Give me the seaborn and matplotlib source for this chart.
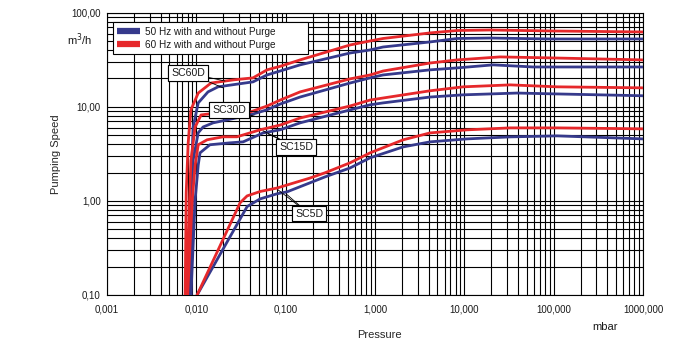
import numpy as np
import pandas as pd
import matplotlib
matplotlib.use("Agg")
import matplotlib.pyplot as plt
from matplotlib.ticker import FixedLocator, FixedFormatter, NullFormatter, LogLocator
import seaborn as sns

# ---------------- data (pressure in mbar, pumping speed in m3/h) ----------------
sc60d_50_p = [0.0085, 0.0087, 0.0092, 0.0105, 0.0135, 0.0175, 0.0431, 0.0619, 0.0866, 0.145, 0.526, 0.881, 1.23, 4.14, 8.3, 19.4, 91, 1000]
sc60d_50_s = [0.1, 1.22, 6.1, 11.0, 14.4, 16.3, 18.4, 21.8, 24.0, 27.9, 37.3, 40.2, 43.2, 48.9, 53.2, 53.8, 52.6, 52.6]
sc60d_60_p = [0.0075, 0.0077, 0.0081, 0.0087, 0.0105, 0.0146, 0.0258, 0.0431, 0.0619, 0.0866, 0.145, 0.526, 0.881, 1.23, 4.14, 8.3, 19.4, 91, 1000]
sc60d_60_s = [0.1, 1.22, 4.1, 9.3, 14.0, 17.9, 19.3, 20.3, 24.7, 26.9, 31.5, 45.4, 50.1, 53.2, 61.0, 64.7, 65.5, 64.0, 62.4]

sc30d_50_p = [0.0087, 0.0092, 0.0105, 0.0119, 0.0154, 0.0221, 0.040, 0.062, 0.087, 0.145, 0.526, 0.881, 1.23, 4.14, 8.3, 21, 59, 1000]
sc30d_50_s = [0.1, 2.7, 5.3, 6.1, 6.75, 7.26, 8.2, 9.3, 10.7, 12.7, 17.9, 20.3, 21.8, 24.7, 25.9, 27.9, 26.5, 26.5]
sc30d_60_p = [0.0077, 0.0087, 0.0097, 0.0113, 0.017, 0.028, 0.040, 0.062, 0.087, 0.145, 0.526, 0.881, 1.23, 4.14, 8.3, 25, 91, 1000]
sc30d_60_s = [0.1, 2.7, 6.1, 8.2, 8.6, 8.2, 8.8, 10.2, 11.8, 14.4, 19.8, 21.8, 24.0, 29.2, 31.5, 33.9, 33.1, 31.5]

sc15d_50_p = [0.0087, 0.0097, 0.0105, 0.011, 0.0142, 0.0238, 0.0334, 0.056, 0.087, 0.145, 0.526, 0.881, 1.23, 4.14, 9.7, 39, 109, 1000]
sc15d_50_s = [0.1, 1.03, 2.4, 3.24, 3.95, 4.14, 4.24, 5.28, 5.7, 6.75, 9.27, 10.5, 11.0, 12.7, 13.4, 14.0, 13.7, 13.1]
sc15d_60_p = [0.0080, 0.0090, 0.0097, 0.0105, 0.0132, 0.020, 0.0285, 0.052, 0.087, 0.145, 0.526, 0.881, 1.23, 4.14, 9.7, 32.6, 109, 1000]
sc15d_60_s = [0.1, 1.03, 2.4, 3.95, 4.46, 4.8, 4.8, 5.7, 6.4, 7.6, 10.2, 11.8, 12.4, 14.8, 16.3, 17.1, 16.3, 15.9]

sc5d_50_p = [0.0102, 0.037, 0.0517, 0.080, 0.104, 0.276, 0.526, 0.881, 2.07, 4.14, 10.7, 32.6, 109, 1000]
sc5d_50_s = [0.1, 0.87, 1.05, 1.19, 1.25, 1.80, 2.24, 2.87, 3.75, 4.24, 4.56, 4.79, 4.91, 4.56]
sc5d_60_p = [0.0102, 0.0309, 0.037, 0.052, 0.080, 0.1875, 0.276, 0.526, 0.881, 2.07, 4.14, 10.7, 32.6, 109, 1000]
sc5d_60_s = [0.1, 0.955, 1.13, 1.26, 1.37, 1.75, 1.99, 2.54, 3.24, 4.46, 5.28, 5.69, 5.97, 5.97, 5.83]

series_labels = ["50 Hz with and without Purge", "60 Hz with and without Purge"]
models = ["SC60D", "SC30D", "SC15D", "SC5D"]

x_ticks = [0.001, 0.01, 0.1, 1, 10, 100, 1000]
x_tick_labels = ["0,001", "0,010", "0,100", "1,000", "10,000", "100,000", "1000,000"]
y_ticks = [0.1, 1, 10, 100]
y_tick_labels = ["0,10", "1,00", "10,00", "100,00"]

# ---------------- long table ----------------
curves = {
    ("SC60D", series_labels[0]): (sc60d_50_p, sc60d_50_s),
    ("SC60D", series_labels[1]): (sc60d_60_p, sc60d_60_s),
    ("SC30D", series_labels[0]): (sc30d_50_p, sc30d_50_s),
    ("SC30D", series_labels[1]): (sc30d_60_p, sc30d_60_s),
    ("SC15D", series_labels[0]): (sc15d_50_p, sc15d_50_s),
    ("SC15D", series_labels[1]): (sc15d_60_p, sc15d_60_s),
    ("SC5D", series_labels[0]): (sc5d_50_p, sc5d_50_s),
    ("SC5D", series_labels[1]): (sc5d_60_p, sc5d_60_s),
}
rows = []
for (model, freq), (ps, ss) in curves.items():
    for i, (p, s) in enumerate(zip(ps, ss)):
        rows.append({"model": model, "freq": freq, "unit": model + freq, "order": i,
                     "pressure": p, "speed": s})
df = pd.DataFrame(rows)

# ---------------- style ----------------
sns.set_style("white")
plt.rcParams["font.family"] = ["Liberation Sans", "DejaVu Sans"]
plt.rcParams["text.color"] = "#1a1a1a"

blue = "#363a8c"
red = "#e6282b"
palette = {series_labels[0]: blue, series_labels[1]: red}

fig = plt.figure(figsize=(7.0, 3.57), dpi=100)
ax = fig.add_axes([107 / 700, 1 - 295 / 357, 536 / 700, 282.3 / 357])

sns.lineplot(data=df, x="pressure", y="speed", hue="freq", hue_order=series_labels,
             units="unit", estimator=None, sort=False, palette=palette,
             linewidth=2.0, ax=ax, zorder=3)
for ln in ax.get_lines():
    ln.set_solid_joinstyle("round")

ax.set_xscale("log")
ax.set_yscale("log")
ax.set_xlim(0.001, 1000)
ax.set_ylim(0.1, 100)

ax.xaxis.set_major_locator(FixedLocator(x_ticks))
ax.xaxis.set_major_formatter(FixedFormatter(x_tick_labels))
ax.yaxis.set_major_locator(FixedLocator(y_ticks))
ax.yaxis.set_major_formatter(FixedFormatter(y_tick_labels))
ax.xaxis.set_minor_locator(LogLocator(base=10, subs=np.arange(2, 10)))
ax.yaxis.set_minor_locator(LogLocator(base=10, subs=np.arange(2, 10)))
ax.xaxis.set_minor_formatter(NullFormatter())
ax.yaxis.set_minor_formatter(NullFormatter())

ax.set_axisbelow(True)
ax.grid(True, which="both", color="black", linewidth=0.8)
ax.tick_params(which="major", direction="out", length=3, width=0.8, labelsize=7,
               colors="black", labelcolor="#1a1a1a")
ax.tick_params(axis="y", which="major", pad=1.5)
ax.tick_params(axis="x", which="major", pad=3.5)
ax.tick_params(which="minor", length=0)
for sp in ax.spines.values():
    sp.set_color("black")
    sp.set_linewidth(0.8)

# axis labels
ax.set_ylabel("Pumping Speed", fontsize=8)
ax.yaxis.set_label_coords(-0.085, 0.5)
ax.set_xlabel("Pressure", fontsize=8)
ax.xaxis.set_label_coords(0.509, -0.125)
ax.text(0.929, -0.113, "mbar", transform=ax.transAxes, fontsize=8,
        ha="center", va="center")
ax.text(-0.075, 0.886, "m$^3$/h", transform=ax.transAxes, fontsize=8,
        ha="left", va="baseline")

# legend
leg = ax.legend(loc="upper left", bbox_to_anchor=(0.011, 0.857, 0.364, 0.11),
                mode="expand", fontsize=7.2, frameon=True, fancybox=False,
                framealpha=1, edgecolor="black", handlelength=2.3,
                labelspacing=0.3, borderpad=0.45, handletextpad=0.5,
                borderaxespad=0)
leg.get_frame().set_linewidth(0.8)
for h in leg.get_lines():
    h.set_linewidth(4.5)
    h.set_solid_capstyle("butt")
leg.set_zorder(5)

# model labels
label_pos = {
    "SC60D": ((0.00807, 22.9), [(0.0209, 18.8), (0.0199, 15.9)]),
    "SC30D": ((0.0232, 9.27), [(0.048, 8.83), (0.048, 7.82)]),
    "SC15D": ((0.1308, 3.75), [(0.0558, 5.55), (0.0635, 5.14)]),
    "SC5D": ((0.183, 0.729), [(0.0822, 1.31), (0.101, 1.19)]),
}
for name in models:
    (tx, ty), targets = label_pos[name]
    for (px, py) in targets:
        ax.annotate(name, xy=(px, py), xytext=(tx, ty), fontsize=7.6,
                    ha="center", va="center", zorder=6,
                    bbox=dict(boxstyle="square,pad=0.25", fc="white", ec="black", lw=0.8),
                    arrowprops=dict(arrowstyle="-", color="black", lw=0.6,
                                    shrinkA=0, shrinkB=0))

fig.savefig("out.png", dpi=100)
